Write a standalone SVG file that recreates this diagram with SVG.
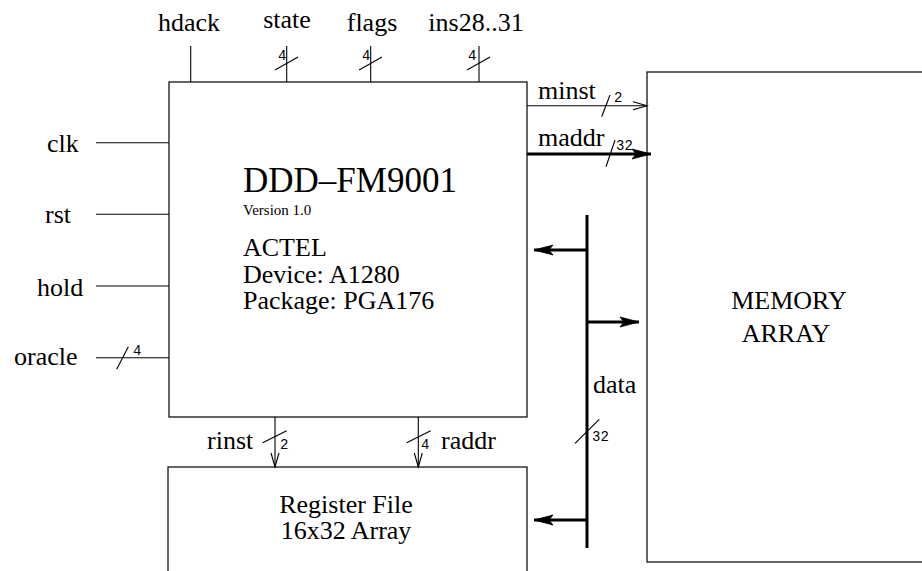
<svg xmlns="http://www.w3.org/2000/svg" width="922" height="571" viewBox="0 0 922 571">
<style>
.box{fill:none;stroke:#000;stroke-width:1.2}
.w{stroke:#000;stroke-width:1.1;fill:none}
.bus{stroke:#000;stroke-width:3;fill:none}
.t{font-family:"Liberation Serif","Times New Roman",serif;font-size:26px;fill:#000}
.big{font-family:"Liberation Serif","Times New Roman",serif;font-size:35px;fill:#000}
.sm{font-family:"Liberation Serif","Times New Roman",serif;font-size:15px;fill:#000}
.n{font-family:"Liberation Mono","Courier New",monospace;font-size:14px;fill:#000}
.c{text-anchor:middle}
</style>
<defs>
<marker id="open" markerUnits="userSpaceOnUse" markerWidth="20" markerHeight="12" viewBox="-16 -6 20 12" refX="0" refY="0" orient="auto" overflow="visible">
<path d="M-14,-4 L0,0 L-14,4" fill="none" stroke="#000" stroke-width="1.1"/>
</marker>
<marker id="fill" markerUnits="userSpaceOnUse" markerWidth="24" markerHeight="14" viewBox="-22 -7 24 14" refX="0" refY="0" orient="auto" overflow="visible">
<path d="M-19,-5 L0,0 L-19,5 L-15,0 Z" fill="#000" stroke="#000" stroke-width="0.8"/>
</marker>
</defs>

<g id="main">
<rect class="box" x="169" y="82" width="358" height="335"/>
<text class="big" x="243" y="192">DDD–FM9001</text>
<text class="sm" x="243" y="215">Version 1.0</text>
<text class="t" x="243" y="256">ACTEL</text>
<text class="t" x="243" y="283">Device: A1280</text>
<text class="t" x="243" y="309">Package: PGA176</text>
</g>

<g id="memory">
<rect class="box" x="647" y="72" width="290" height="490"/>
<text class="t c" x="789" y="309">MEMORY</text>
<text class="t c" x="786" y="342">ARRAY</text>
</g>

<g id="regfile">
<rect class="box" x="168" y="467" width="359" height="120"/>
<text class="t c" x="346" y="513">Register File</text>
<text class="t c" x="346" y="539">16x32 Array</text>
</g>

<g id="connectors">
<line class="w" x1="190.7" y1="46" x2="190.7" y2="82"/>
<line class="w" x1="286.7" y1="46" x2="286.7" y2="82"/>
<line class="w" x1="370.7" y1="46" x2="370.7" y2="82"/>
<line class="w" x1="479" y1="46" x2="479" y2="82"/>
<line class="w" x1="275" y1="70" x2="298" y2="57"/>
<line class="w" x1="359" y1="70" x2="382" y2="57"/>
<line class="w" x1="467" y1="70" x2="490" y2="57"/>
<line class="w" x1="96" y1="142.7" x2="169" y2="142.7"/>
<line class="w" x1="96" y1="214.3" x2="169" y2="214.3"/>
<line class="w" x1="96" y1="286" x2="169" y2="286"/>
<line class="w" x1="96" y1="357.7" x2="169" y2="357.7"/>
<line class="w" x1="116.7" y1="369.3" x2="128.3" y2="346.7"/>
<line class="w" x1="527" y1="105.7" x2="647" y2="105.7" marker-end="url(#open)"/>
<line class="w" x1="601.7" y1="116.7" x2="610" y2="95"/>
<line class="bus" x1="527" y1="154" x2="651" y2="154" marker-end="url(#fill)"/>
<line class="w" x1="606" y1="166.7" x2="615" y2="140"/>
<line class="w" x1="275" y1="417" x2="275" y2="467" marker-end="url(#open)"/>
<line class="w" x1="262.7" y1="442.7" x2="286.7" y2="430.7"/>
<line class="w" x1="418.3" y1="417" x2="418.3" y2="467" marker-end="url(#open)"/>
<line class="w" x1="406.7" y1="442.7" x2="430.7" y2="430.7"/>
<line class="bus" x1="587" y1="215" x2="587" y2="548"/>
<line class="bus" x1="587" y1="250" x2="534" y2="250" marker-end="url(#fill)"/>
<line class="bus" x1="587" y1="322" x2="639" y2="322" marker-end="url(#fill)"/>
<line class="bus" x1="587" y1="520" x2="534" y2="520" marker-end="url(#fill)"/>
<line class="w" x1="575" y1="443.3" x2="599.3" y2="419.3"/>
</g>

<g id="labels">
<text class="t c" x="189" y="31">hdack</text>
<text class="t c" x="287" y="28">state</text>
<text class="t c" x="372" y="31">flags</text>
<text class="t c" x="476" y="31">ins28..31</text>
<text class="n" x="278" y="60">4</text>
<text class="n" x="362" y="60">4</text>
<text class="n" x="468" y="60">4</text>
<text class="t" x="47" y="152">clk</text>
<text class="t" x="45" y="223">rst</text>
<text class="t" x="37" y="296">hold</text>
<text class="t" x="14" y="365">oracle</text>
<text class="n" x="133" y="355">4</text>
<text class="t" x="538" y="99">minst</text>
<text class="n" x="614" y="102">2</text>
<text class="t" x="538" y="146">maddr</text>
<text class="n" x="616" y="150">32</text>
<text class="t" x="207" y="449">rinst</text>
<text class="n" x="280" y="449">2</text>
<text class="n" x="421" y="449">4</text>
<text class="t" x="441" y="449">raddr</text>
<text class="t" x="593" y="393">data</text>
<text class="n" x="592" y="441">32</text>
</g>
</svg>
